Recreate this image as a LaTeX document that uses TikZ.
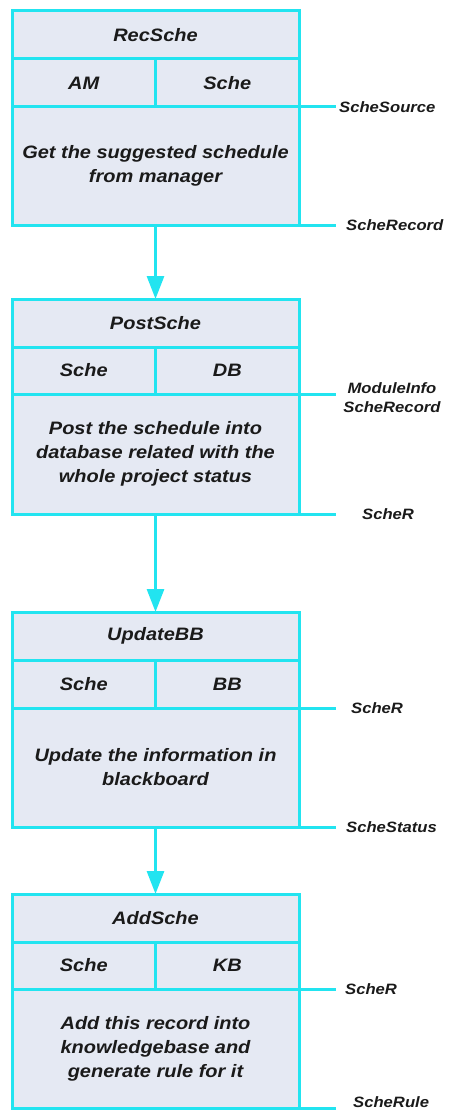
\documentclass[tikz,border=0pt]{standalone}
\usepackage{fontspec}
\setmainfont{Liberation Sans}[FakeStretch=1.11]
\usetikzlibrary{arrows.meta}
\definecolor{edge}{HTML}{22E4F0}
\definecolor{panel}{HTML}{E5E9F3}
\definecolor{ink}{HTML}{1A1A1A}
\tikzset{
  cell/.style={draw=edge, fill=panel, line width=3pt, inner sep=0pt, outer sep=0pt,
    minimum width=#1, text=ink, font=\fontsize{18}{24}\selectfont\bfseries\itshape},
  bodytext/.style={align=center},
  flow/.style={draw=edge, line width=3pt, -{Triangle[length=23pt,width=17pt]}},
  wire/.style={draw=edge, line width=3pt},
  tag/.style={anchor=west, inner sep=0pt, text=ink, font=\fontsize{15}{19}\selectfont\bfseries\itshape}
}
\begin{document}
\begin{tikzpicture}[x=1pt,y=-1pt]
\useasboundingbox (0,0) rectangle (448,1110);

% ---- RecSche ----
\node[cell=287pt, minimum height=48pt] (t1) at (155.5,35) {RecSche};
\node[cell=143.5pt, minimum height=48pt] (a1) at (83.75,83) {AM};
\node[cell=143.5pt, minimum height=48pt] (b1) at (227.25,83) {Sche};
\node[cell=287pt, minimum height=118pt, bodytext] (m1) at (155.5,166) {Get the suggested schedule\\from manager};

% ---- PostSche ----
\node[cell=287pt, minimum height=48pt] (t2) at (155.5,323) {PostSche};
\node[cell=143.5pt, minimum height=47pt] (a2) at (83.75,370.5) {Sche};
\node[cell=143.5pt, minimum height=47pt] (b2) at (227.25,370.5) {DB};
\node[cell=287pt, minimum height=120pt, bodytext] (m2) at (155.5,454) {Post the schedule into\\database related with the\\whole project status};

% ---- UpdateBB ----
\node[cell=287pt, minimum height=48pt] (t3) at (155.5,636) {UpdateBB};
\node[cell=143.5pt, minimum height=48pt] (a3) at (83.75,684) {Sche};
\node[cell=143.5pt, minimum height=48pt] (b3) at (227.25,684) {BB};
\node[cell=287pt, minimum height=119pt, bodytext] (m3) at (155.5,767.5) {Update the information in\\blackboard};

% ---- AddSche ----
\node[cell=287pt, minimum height=48pt] (t4) at (155.5,918) {AddSche};
\node[cell=143.5pt, minimum height=47pt] (a4) at (83.75,965.5) {Sche};
\node[cell=143.5pt, minimum height=47pt] (b4) at (227.25,965.5) {KB};
\node[cell=287pt, minimum height=119pt, bodytext] (m4) at (155.5,1048.5) {Add this record into\\knowledgebase and\\generate rule for it};

% ---- flow between steps ----
\draw[flow] (m1.south) -- (t2.north);
\draw[flow] (m2.south) -- (t3.north);
\draw[flow] (m3.south) -- (t4.north);

% ---- side wires and their tags ----
\coordinate (w1a) at (336,107);  \coordinate (w1b) at (336,225);
\coordinate (w2a) at (336,394);  \coordinate (w2b) at (336,514);
\coordinate (w3a) at (336,708);  \coordinate (w3b) at (336,827);
\coordinate (w4a) at (336,989);  \coordinate (w4b) at (336,1108);

\draw[wire] (m1.north east) -- (w1a);
\draw[wire] (m1.south east) -- (w1b);
\draw[wire] (m2.north east) -- (w2a);
\draw[wire] (m2.south east) -- (w2b);
\draw[wire] (m3.north east) -- (w3a);
\draw[wire] (m3.south east) -- (w3b);
\draw[wire] (m4.north east) -- (w4a);
\draw[wire] (m4.south east) -- (w4b);

\node[tag] (l1a) at (339,107) {ScheSource};
\node[tag] (l1b) at (346,225) {ScheRecord};
\node[tag, anchor=center, align=center] (l2a) at (392,398) {ModuleInfo\\ScheRecord};
\node[tag] (l2b) at (362,514) {ScheR};
\node[tag] (l3a) at (351,708) {ScheR};
\node[tag] (l3b) at (346,827) {ScheStatus};
\node[tag] (l4a) at (345,989) {ScheR};
\node[tag] (l4b) at (353,1102) {ScheRule};
\end{tikzpicture}
\end{document}
